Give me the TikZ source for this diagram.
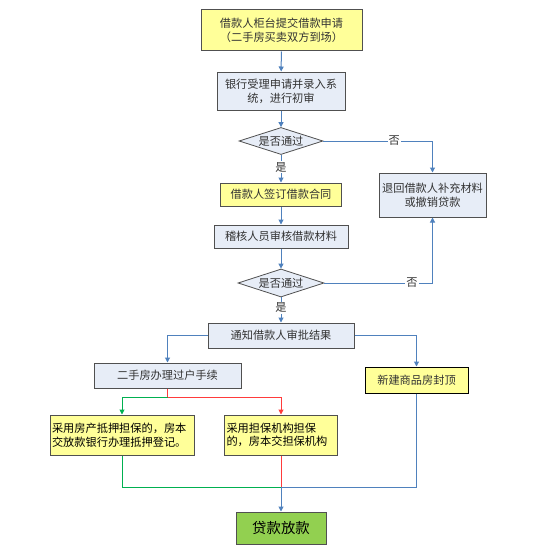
\documentclass[tikz,border=0pt]{standalone}
\usepackage{fontspec}
\setmainfont{Noto Sans CJK SC}
\usetikzlibrary{shapes.geometric,arrows.meta}
\definecolor{lblue}{HTML}{4F81BD}
\definecolor{bordc}{HTML}{505050}
\definecolor{yfill}{HTML}{FFFF99}
\definecolor{bfill}{HTML}{E7EDF7}
\definecolor{gfill}{HTML}{92D050}
\definecolor{gline}{HTML}{00B050}
\definecolor{rline}{HTML}{FF3B3B}
\definecolor{txt}{HTML}{333333}
\begin{document}
\begin{tikzpicture}[x=1pt,y=-1pt,
  font=\fontsize{11.2}{13.5}\selectfont,
  box/.style={draw=bordc, line width=1pt, inner sep=1pt, align=center, text=txt},
  ybox/.style={box, fill=yfill},
  bbox/.style={box, fill=bfill},
  dia/.style={diamond, draw=bordc, line width=0.8pt, fill=bfill, inner sep=0pt, shape aspect=3.1, text=txt},
  conn/.style={draw=lblue, line width=1pt},
  tip/.style={-{Triangle[length=5pt,width=5pt]}},
  lab/.style={fill=white, inner sep=1pt, text=txt}]
\useasboundingbox (0,0) rectangle (540,551);
\fill[white] (0,0) rectangle (540,551);

\node[ybox, minimum width=161pt, minimum height=41pt, font=\fontsize{11.2}{14}\selectfont] (b1) at (281.5,30.5) {借款人柜台提交借款申请\\（二手房买卖双方到场）};
\node[bbox, minimum width=128pt, minimum height=38pt, font=\fontsize{11.2}{14}\selectfont] (b2) at (281,91) {银行受理申请并录入系\\统，进行初审};
\node[dia, minimum width=84pt, minimum height=27pt] (d1) at (281,141) {是否通过};
\node[ybox, minimum width=121pt, minimum height=23pt] (b3) at (281,194.5) {借款人签订借款合同};
\node[bbox, minimum width=134pt, minimum height=23pt] (b4) at (281,236.5) {稽核人员审核借款材料};
\node[dia, minimum width=86pt, minimum height=28pt] (d2) at (281,283) {是否通过};
\node[bbox, minimum width=146pt, minimum height=25pt] (b5) at (281,335.5) {通知借款人审批结果};
\node[bbox, minimum width=107pt, minimum height=44pt] (r1) at (432.5,195) {退回借款人补充材料\\或撤销贷款};
\node[bbox, minimum width=147pt, minimum height=25pt] (b6) at (167.5,375.5) {二手房办理过户手续};
\node[ybox, draw=black, minimum width=103pt, minimum height=26pt] (b7) at (416.5,380) {新建商品房封顶};
\node[ybox, minimum width=144pt, minimum height=40pt, text width=140pt, align=left, text=black] (b8) at (122,435) {采用房产抵押担保的，房本\\交放款银行办理抵押登记。};
\node[ybox, minimum width=113pt, minimum height=40pt, text width=109pt, align=left, text=black] (b9) at (281,435) {采用担保机构担保\\的，房本交担保机构};
\node[box, fill=gfill, minimum width=90pt, minimum height=32pt, text=black, font=\fontsize{14.4}{16}\selectfont] (b10) at (281,528) {贷款放款};

\coordinate (split) at (167.5,397);
\coordinate (merge) at (281,487);

\draw[conn,tip] (b1) -- (b2);
\draw[conn,tip] (b2) -- (d1);
\draw[conn,tip] (d1) -- node[lab,pos=0.45]{是} (b3);
\draw[conn,tip] (d1.east) -- node[lab,pos=0.65]{否} (d1.east -| r1.north) -- (r1.north);
\draw[conn,tip] (b3) -- (b4);
\draw[conn,tip] (b4) -- (d2);
\draw[conn,tip] (d2) -- node[lab,pos=0.42]{是} (b5);
\draw[conn,tip] (d2.east) -- node[lab,pos=0.81]{否} (d2.east -| r1.south) -- (r1.south);
\draw[conn,tip] (b5.west) -| (b6.north);
\draw[conn,tip] (b5.east) -| (b7.north);
\draw[conn,rline,tip] (b6.south) -- (split) -| (b9.north);
\draw[conn,gline,tip] (split) -| (b8.north);
\draw[conn,gline] (b8.south) |- (merge);
\draw[conn,tip] (b7.south) |- (merge) -- (b10.north);
\draw[conn,rline] (b9.south) -- (merge);
\end{tikzpicture}
\end{document}
